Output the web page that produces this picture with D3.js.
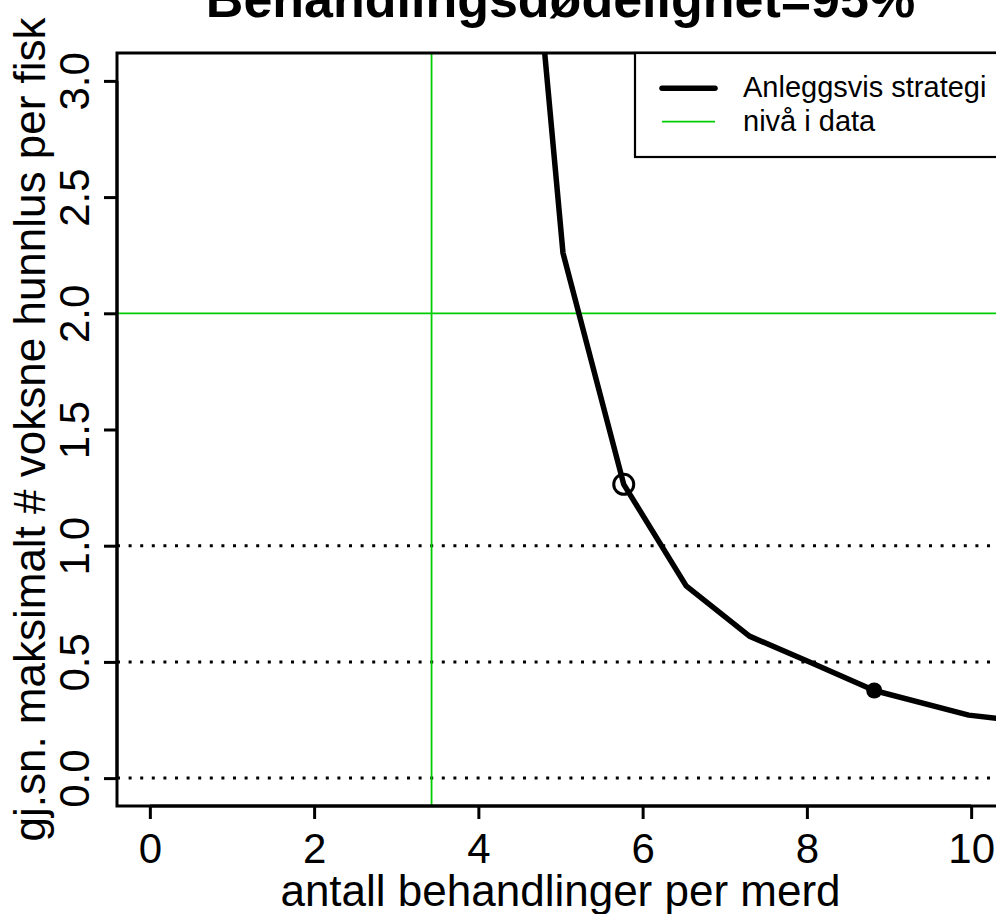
<!DOCTYPE html>
<html>
<head>
<meta charset="utf-8">
<script src="https://cdn.jsdelivr.net/npm/d3@7/dist/d3.min.js"></script>
<style>
  html, body { margin: 0; padding: 0; background: #fff; }
  svg { display: block; }
  text { font-family: "Liberation Sans", Arial, sans-serif; fill: #000; }
</style>
</head>
<body>
<svg id="chart" width="996" height="914"></svg>
<script>
// ---- data ----
const curveX = [4.27, 5.03, 5.77, 6.53, 7.30, 8.06, 8.82, 9.97, 11.0];
const curveY = [5.2, 2.26, 1.264, 0.827, 0.611, 0.495, 0.377, 0.271, 0.23];
const openPoint = [5.77, 1.264];
const filledPoint = [8.82, 0.377];
const greenVX = 3.43;
const greenHY = 2.0;
const dottedY = [0, 0.5, 1.0];
const xTicks = [0, 2, 4, 6, 8, 10];
const yTicks = [0, 0.5, 1.0, 1.5, 2.0, 2.5, 3.0];
const legendLabels = ["Anleggsvis strategi", "nivå i data"];
const titleText = "Behandlingsdødelighet=95%";
const xLabel = "antall behandlinger per merd";
const yLabel = "gj.sn. maksimalt # voksne hunnlus per fisk";

// ---- layout ----
const L = 117, R = 1004, T = 53, B = 806;
const green = "#00CD00";
const svg = d3.select("#chart");
const x = d3.scaleLinear().domain([-0.4, 10.4]).range([L, R]);
const y = d3.scaleLinear().domain([-0.12, 3.12]).range([B, T]);

svg.append("defs").append("clipPath").attr("id", "clip")
  .append("rect").attr("x", L).attr("y", T).attr("width", R - L).attr("height", B - T);

const plot = svg.append("g").attr("clip-path", "url(#clip)");

// dotted reference lines
plot.selectAll("line.dot").data(dottedY).enter().append("line")
  .attr("x1", L).attr("x2", R)
  .attr("y1", d => y(d)).attr("y2", d => y(d))
  .attr("stroke", "#000").attr("stroke-width", 3)
  .attr("stroke-dasharray", "3,8.6");

// green lines
plot.append("line").attr("x1", x(greenVX)).attr("x2", x(greenVX))
  .attr("y1", T).attr("y2", B).attr("stroke", green).attr("stroke-width", 1.8);
plot.append("line").attr("x1", L).attr("x2", R)
  .attr("y1", y(greenHY)).attr("y2", y(greenHY)).attr("stroke", green).attr("stroke-width", 1.8);

// curve
const pts = curveX.map((d, i) => [d, curveY[i]]);
plot.append("path").datum(pts)
  .attr("d", d3.line().x(d => x(d[0])).y(d => y(d[1])))
  .attr("fill", "none").attr("stroke", "#000").attr("stroke-width", 5.5)
  .attr("stroke-linejoin", "round");

plot.append("circle").attr("cx", x(openPoint[0])).attr("cy", y(openPoint[1]))
  .attr("r", 10).attr("fill", "none").attr("stroke", "#000").attr("stroke-width", 3);
plot.append("circle").attr("cx", x(filledPoint[0])).attr("cy", y(filledPoint[1]))
  .attr("r", 8).attr("fill", "#000");

// box
svg.append("rect").attr("x", L).attr("y", T).attr("width", R - L).attr("height", B - T)
  .attr("fill", "none").attr("stroke", "#000").attr("stroke-width", 3);

// x axis
const xAxis = svg.append("g").attr("transform", `translate(0,${B})`)
  .call(d3.axisBottom(x).tickValues(xTicks).tickSize(13).tickSizeOuter(0).tickFormat(d3.format("d")));
xAxis.select(".domain").attr("stroke-width", 3).attr("d", `M${x(0)},0H${x(10)}`);
xAxis.selectAll(".tick line").attr("stroke-width", 3);
xAxis.selectAll(".tick text").attr("y", 57).attr("dy", null)
  .style("font-size", "42px").style("font-family", "'Liberation Sans', Arial, sans-serif");

// y axis
const yAxis = svg.append("g").attr("transform", `translate(${L},0)`)
  .call(d3.axisLeft(y).tickValues(yTicks).tickSize(13).tickSizeOuter(0).tickFormat(d3.format(".1f")));
yAxis.select(".domain").attr("stroke-width", 3).attr("d", `M0,${y(0)}V${y(3)}`);
yAxis.selectAll(".tick line").attr("stroke-width", 3);
yAxis.selectAll(".tick text")
  .attr("transform", "rotate(-90)")
  .attr("x", 0).attr("y", -28).attr("dy", null)
  .attr("text-anchor", "middle")
  .style("font-size", "42px").style("font-family", "'Liberation Sans', Arial, sans-serif");

// title & labels
svg.append("text").attr("x", (L + R) / 2).attr("y", 17).attr("text-anchor", "middle")
  .style("font-size", "52px").style("font-weight", "bold").text(titleText);
svg.append("text").attr("x", (L + R) / 2).attr("y", 906).attr("text-anchor", "middle")
  .style("font-size", "44px").text(xLabel);
svg.append("text").attr("transform", `translate(45,${(T + B) / 2}) rotate(-90)`)
  .attr("text-anchor", "middle").style("font-size", "44px").text(yLabel);

// legend
const lg = svg.append("g");
lg.append("rect").attr("x", 635).attr("y", T).attr("width", R - 635).attr("height", 157 - T)
  .attr("fill", "#fff").attr("stroke", "#000").attr("stroke-width", 2.2);
const rowY = [88.3, 121.7];
const rowStroke = ["#000", green];
const rowW = [5.5, 1.8];
legendLabels.forEach((lab, i) => {
  lg.append("line").attr("x1", 662).attr("x2", 715).attr("y1", rowY[i]).attr("y2", rowY[i])
    .attr("stroke", rowStroke[i]).attr("stroke-width", rowW[i]).attr("stroke-linecap", i === 0 ? "round" : "butt");
  lg.append("text").attr("x", 743).attr("y", rowY[i] + 9)
    .style("font-size", "29px").text(lab);
});
</script>
</body>
</html>
